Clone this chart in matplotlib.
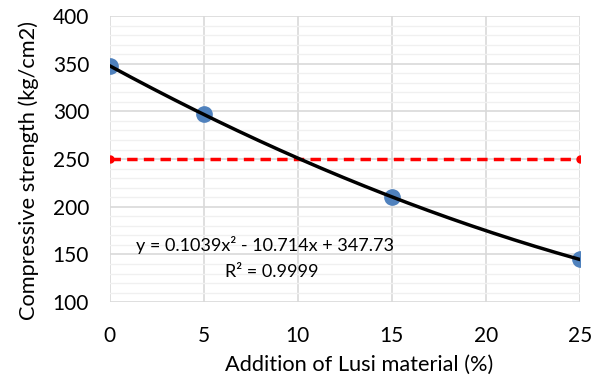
import numpy as np
from matplotlib import pyplot as plt
from matplotlib.ticker import MultipleLocator

plt.rcParams['font.family'] = ['Lato', 'DejaVu Sans']

lusi_pct = [0, 5, 15, 25]
strength = [347.7, 296.8, 210.4, 144.8]
limit_x = [0, 25]
limit_y = [250, 250]

coef = np.polyfit(lusi_pct, strength, 2)
xs = np.linspace(0, 25, 200)

fig = plt.figure(figsize=(5.91, 3.82), dpi=100)
ax = fig.add_axes([0.186, 0.209, 0.795, 0.749])

ax.plot(limit_x, limit_y, color='#ff0000', linestyle=(0, (3, 1.8)), linewidth=2.5,
        marker='o', markersize=5, zorder=3)
ax.plot(lusi_pct, strength, 'o', color='#4f81bd', markersize=11, zorder=4)
ax.plot(xs, np.polyval(coef, xs), color='black', linewidth=2.5, zorder=5)

ax.set_xlim(0, 25)
ax.set_ylim(100, 400)
ax.xaxis.set_major_locator(MultipleLocator(5))
ax.yaxis.set_major_locator(MultipleLocator(50))
ax.yaxis.set_minor_locator(MultipleLocator(10))
ax.grid(which='major', color='#d9d9d9', linewidth=1.2)
ax.grid(which='minor', axis='y', color='#f0f0f0', linewidth=1.0)
ax.set_axisbelow(True)
for s in ax.spines.values():
    s.set_visible(False)
ax.tick_params(which='both', length=0, labelsize=15, colors='black')
ax.tick_params(axis='x', pad=17)
ax.tick_params(axis='y', pad=15)

ax.set_xlabel("Addition of Lusi material (%)", fontsize=15.7)
ax.set_ylabel("Compressive strength (kg/cm2)", fontsize=15.7, labelpad=10)
ax.xaxis.set_label_coords(0.53, -0.185)
ax.yaxis.label.set_y(0.46)

ax.text(0.33, 0.199, "y = 0.1039x² - 10.714x + 347.73", transform=ax.transAxes,
        ha='center', va='center', fontsize=13)
ax.text(0.345, 0.105, "R² = 0.9999", transform=ax.transAxes,
        ha='center', va='center', fontsize=13)

plt.savefig("out.png", dpi=100)
